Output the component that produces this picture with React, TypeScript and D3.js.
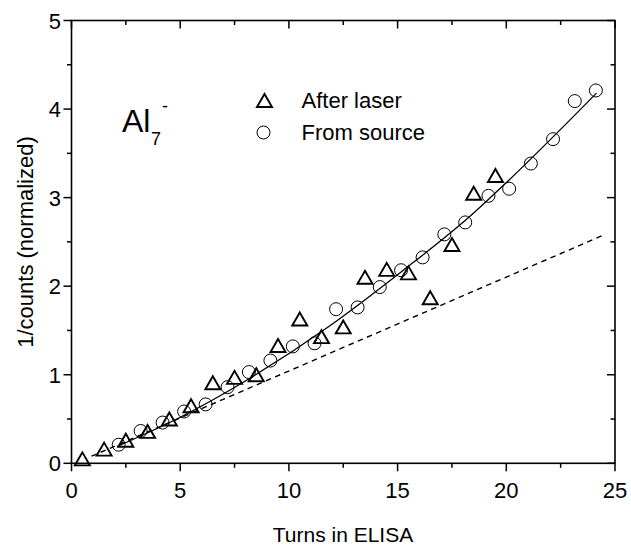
import React from "react";
import * as d3 from "d3";

// After-laser measurements (triangles)
const laserX = [0.5, 1.5, 2.5, 3.5, 4.5, 5.5, 6.5, 7.5, 8.5, 9.5, 10.5, 11.5, 12.5, 13.5, 14.5, 15.5, 16.5, 17.5, 18.5, 19.5];
const laserY = [0.05, 0.16, 0.26, 0.36, 0.5, 0.65, 0.91, 0.97, 1.0, 1.33, 1.63, 1.43, 1.54, 2.1, 2.19, 2.15, 1.87, 2.47, 3.05, 3.25];

// From-source measurements (circles)
const sourceX = [2.17, 3.18, 4.19, 5.18, 6.17, 7.18, 8.16, 9.15, 10.18, 11.18, 12.17, 13.16, 14.18, 15.16, 16.15, 17.15, 18.11, 19.18, 20.13, 21.13, 22.15, 23.15, 24.12];
const sourceY = [0.21, 0.365, 0.46, 0.585, 0.665, 0.86, 1.03, 1.16, 1.32, 1.355, 1.74, 1.76, 1.99, 2.18, 2.325, 2.585, 2.72, 3.02, 3.1, 3.385, 3.66, 4.09, 4.21];

// Fitted curve through the source data (solid)
const fitX = [2.1, 5, 8, 11.87, 15.16, 18.29, 20.13, 24.15];
const fitY = [0.19, 0.52, 0.93, 1.55, 2.16, 2.78, 3.2, 4.18];

// Reference line (dashed)
const refX = [0.92, 24.5];
const refY = [0.08, 2.58];

const xTicks = [0, 5, 10, 15, 20, 25];
const xMinor = [2.5, 7.5, 12.5, 17.5, 22.5];
const yTicks = [0, 1, 2, 3, 4, 5];
const yMinor = [0.5, 1.5, 2.5, 3.5, 4.5];

const W = 631;
const H = 549;
const FONT = "'Liberation Sans', Arial, Helvetica, sans-serif";

export default function App() {
  const x = d3.scaleLinear().domain([0, 25]).range([71.5, 615]);
  const y = d3.scaleLinear().domain([0, 5]).range([463.3, 20.5]);
  const [x0, x1] = x.range();
  const [y0, y1] = y.range();

  const line = d3
    .line<[number, number]>()
    .x((d) => x(d[0]))
    .y((d) => y(d[1]));
  const curve = d3
    .line<[number, number]>()
    .x((d) => x(d[0]))
    .y((d) => y(d[1]))
    .curve(d3.curveMonotoneX);

  const fitPts = fitX.map((v, i) => [v, fitY[i]] as [number, number]);
  const refPts = refX.map((v, i) => [v, refY[i]] as [number, number]);

  const triPath = (cx: number, cy: number) => {
    const hw = 7.5;
    const hh = 6.5;
    return `M${cx},${cy - hh}L${cx + hw},${cy + hh}L${cx - hw},${cy + hh}Z`;
  };

  const major = 8;
  const minor = 4.5;

  return (
    <svg
      width={W}
      height={H}
      style={{ position: "absolute", left: 0, top: 0, background: "#fff" }}
      fontFamily={FONT}
    >
      <rect x={0} y={0} width={W} height={H} fill="#fff" />

      {/* reference line */}
      <path
        d={line(refPts) || ""}
        fill="none"
        stroke="#000"
        strokeWidth={1.4}
        strokeDasharray="5.5,4.5"
      />
      {/* fit curve */}
      <path d={curve(fitPts) || ""} fill="none" stroke="#000" strokeWidth={1.3} />

      {/* source points */}
      {sourceX.map((v, i) => (
        <circle
          key={"s" + i}
          cx={x(v)}
          cy={y(sourceY[i])}
          r={6.5}
          fill="none"
          stroke="#000"
          strokeWidth={1}
        />
      ))}
      {/* after-laser points */}
      {laserX.map((v, i) => (
        <path
          key={"l" + i}
          d={triPath(x(v), y(laserY[i]))}
          fill="none"
          stroke="#000"
          strokeWidth={1.9}
          strokeLinejoin="miter"
        />
      ))}

      {/* frame */}
      <rect
        x={x0}
        y={y1}
        width={x1 - x0}
        height={y0 - y1}
        fill="none"
        stroke="#000"
        strokeWidth={1.6}
      />

      {/* x ticks: bottom outward, top inward */}
      {xTicks.map((t) => (
        <g key={"xt" + t}>
          <line x1={x(t)} x2={x(t)} y1={y0} y2={y0 + major} stroke="#000" strokeWidth={1.5} />
          <line x1={x(t)} x2={x(t)} y1={y1} y2={y1 + major} stroke="#000" strokeWidth={1.5} />
          <text x={x(t)} y={498} textAnchor="middle" fontSize={22} fill="#000">
            {t}
          </text>
        </g>
      ))}
      {xMinor.map((t) => (
        <g key={"xm" + t}>
          <line x1={x(t)} x2={x(t)} y1={y0} y2={y0 + minor} stroke="#000" strokeWidth={1.5} />
          <line x1={x(t)} x2={x(t)} y1={y1} y2={y1 + minor} stroke="#000" strokeWidth={1.5} />
        </g>
      ))}

      {/* y ticks: left outward, right inward */}
      {yTicks.map((t) => (
        <g key={"yt" + t}>
          <line x1={x0 - major} x2={x0} y1={y(t)} y2={y(t)} stroke="#000" strokeWidth={1.5} />
          <line x1={x1 - major} x2={x1} y1={y(t)} y2={y(t)} stroke="#000" strokeWidth={1.5} />
          <text x={61} y={y(t) + 8} textAnchor="end" fontSize={22} fill="#000">
            {t}
          </text>
        </g>
      ))}
      {yMinor.map((t) => (
        <g key={"ym" + t}>
          <line x1={x0 - minor} x2={x0} y1={y(t)} y2={y(t)} stroke="#000" strokeWidth={1.5} />
          <line x1={x1 - minor} x2={x1} y1={y(t)} y2={y(t)} stroke="#000" strokeWidth={1.5} />
        </g>
      ))}

      {/* axis titles */}
      <text x={343} y={542} textAnchor="middle" fontSize={21} fill="#000">
        Turns in ELISA
      </text>
      <text
        transform={`translate(33,242) rotate(-90)`}
        textAnchor="middle"
        fontSize={22}
        fill="#000"
      >
        1/counts (normalized)
      </text>

      {/* species label */}
      <text x={122} y={131.7} fontSize={32} fill="#000">
        Al
      </text>
      <text x={151} y={145} fontSize={18} fill="#000">
        7
      </text>
      <text x={162} y={112} fontSize={18} fill="#000">
        -
      </text>

      {/* legend */}
      <path d={triPath(264.5, 100.5)} fill="none" stroke="#000" strokeWidth={1.9} />
      <text x={301.5} y={107.7} fontSize={22} fill="#000">
        After laser
      </text>
      <circle cx={263.5} cy={132.5} r={6.5} fill="none" stroke="#000" strokeWidth={1} />
      <text x={301.5} y={140} fontSize={22} fill="#000">
        From source
      </text>
    </svg>
  );
}
